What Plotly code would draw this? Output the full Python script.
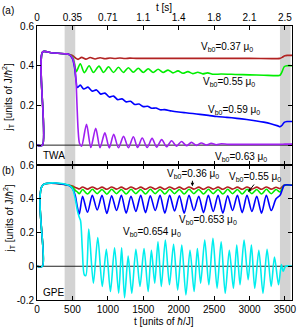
import plotly.graph_objects as go

# ---------------- data ----------------
# Panel (a): TWA
twa_red_t = [0, 78, 80, 200, 400, 450, 500, 540, 580, 630, 690, 750, 820, 890, 960, 1030, 1100, 1170, 1240, 1310, 1400, 2000, 3000, 3430, 3460, 3500, 3530, 3600]
twa_red_y = [0, 0, 0.47, 0.465, 0.46, 0.457, 0.452, 0.44, 0.432, 0.442, 0.433, 0.441, 0.434, 0.440, 0.435, 0.439, 0.436, 0.439, 0.436, 0.438, 0.437, 0.437, 0.437, 0.437, 0.442, 0.45, 0.452, 0.452]

twa_green_t = [0, 78, 80, 200, 400, 450, 500, 530, 555, 611, 667, 736, 796, 875, 940, 1010, 1080, 1150, 1220, 1290, 1360, 1430, 1500, 1570, 1640, 1710, 1780, 1850, 1920, 1990, 2060, 2130, 2200, 2270, 2340, 2410, 2480, 2600, 2800, 3000, 3200, 3400, 3430, 3460, 3490, 3530, 3600]
twa_green_y = [0, 0, 0.47, 0.465, 0.46, 0.457, 0.445, 0.41, 0.37, 0.41, 0.365, 0.40, 0.366, 0.398, 0.366, 0.395, 0.366, 0.392, 0.366, 0.39, 0.367, 0.387, 0.366, 0.385, 0.366, 0.382, 0.366, 0.378, 0.364, 0.374, 0.362, 0.370, 0.360, 0.367, 0.359, 0.364, 0.357, 0.358, 0.356, 0.354, 0.352, 0.350, 0.352, 0.37, 0.395, 0.40, 0.40]

twa_blue_t = [0, 78, 80, 200, 400, 450, 500, 530, 550, 570, 610, 660, 720, 780, 840, 900, 960, 1020, 1080, 1140, 1200, 1260, 1320, 1380, 1440, 1500, 1560, 1620, 1680, 1740, 1800, 1900, 2000, 2100, 2200, 2300, 2420, 2540, 2680, 2820, 2960, 3100, 3200, 3300, 3400, 3430, 3460, 3490, 3530, 3600]
twa_blue_y = [0, 0, 0.47, 0.465, 0.46, 0.457, 0.435, 0.39, 0.33, 0.29, 0.302, 0.283, 0.292, 0.272, 0.278, 0.257, 0.262, 0.242, 0.247, 0.229, 0.233, 0.218, 0.221, 0.205, 0.207, 0.194, 0.196, 0.186, 0.187, 0.178, 0.179, 0.172, 0.167, 0.163, 0.159, 0.155, 0.150, 0.144, 0.140, 0.135, 0.129, 0.122, 0.116, 0.108, 0.097, 0.093, 0.100, 0.115, 0.119, 0.119]

twa_purple_t = [0, 78, 80, 200, 400, 450, 500, 530, 550, 565, 580, 600, 630, 699, 760, 829, 890, 958, 1020, 1083, 1150, 1222, 1290, 1361, 1420, 1486, 1555, 1625, 1690, 1760, 1830, 1900, 1970, 2040, 2110, 2180, 2250, 2320, 2390, 2460, 2530, 2600, 2700, 3000, 3430, 3500, 3600]
twa_purple_y = [0, 0, 0.47, 0.465, 0.46, 0.457, 0.44, 0.40, 0.33, 0.20, 0.08, 0.01, -0.005, 0.105, -0.012, 0.085, -0.013, 0.062, -0.014, 0.054, -0.013, 0.044, -0.013, 0.042, -0.012, 0.036, -0.012, 0.034, -0.01, 0.028, -0.008, 0.022, -0.005, 0.018, -0.003, 0.014, -0.001, 0.011, 0.001, 0.009, 0.002, 0.007, 0.004, 0.004, 0.004, 0.005, 0.005]

# Panel (b): GPE
gpe_t = [0, 78, 80, 450, 500, 540, 570, 597, 643, 713, 781, 850, 918, 986, 1054, 1123, 1191, 1259, 1327, 1396, 1464, 1532, 1600, 1669, 1737, 1805, 1873, 1942, 2010, 2078, 2146, 2215, 2283, 2351, 2419, 2488, 2556, 2624, 2692, 2761, 2829, 2897, 2965, 3034, 3102, 3170, 3238, 3307, 3375, 3430, 3460, 3490, 3600]
gpe_red_y = [0, 0, 0.48, 0.48, 0.475, 0.467, 0.462, 0.458, 0.47, 0.457, 0.47, 0.457, 0.469, 0.456, 0.47, 0.457, 0.469, 0.456, 0.47, 0.457, 0.469, 0.456, 0.47, 0.457, 0.469, 0.456, 0.47, 0.457, 0.469, 0.456, 0.47, 0.457, 0.469, 0.456, 0.47, 0.457, 0.469, 0.456, 0.47, 0.457, 0.469, 0.456, 0.47, 0.457, 0.469, 0.456, 0.47, 0.457, 0.468, 0.46, 0.47, 0.48, 0.48]
gpe_green_y = [0, 0, 0.48, 0.48, 0.47, 0.45, 0.44, 0.43, 0.455, 0.428, 0.456, 0.43, 0.455, 0.427, 0.456, 0.43, 0.455, 0.428, 0.456, 0.43, 0.455, 0.428, 0.456, 0.43, 0.455, 0.428, 0.456, 0.43, 0.455, 0.428, 0.456, 0.43, 0.455, 0.428, 0.456, 0.43, 0.455, 0.428, 0.456, 0.43, 0.455, 0.428, 0.456, 0.43, 0.455, 0.428, 0.456, 0.43, 0.455, 0.44, 0.46, 0.48, 0.48]
gpe_blue_y = [0, 0, 0.48, 0.478, 0.46, 0.42, 0.35, 0.31, 0.415, 0.32, 0.42, 0.333, 0.42, 0.313, 0.418, 0.33, 0.42, 0.315, 0.415, 0.325, 0.42, 0.318, 0.418, 0.33, 0.42, 0.315, 0.42, 0.328, 0.418, 0.315, 0.42, 0.33, 0.415, 0.318, 0.42, 0.325, 0.42, 0.315, 0.418, 0.33, 0.42, 0.318, 0.42, 0.325, 0.415, 0.315, 0.42, 0.33, 0.40, 0.42, 0.45, 0.48, 0.48]

gpe_cyan_t = [0, 78, 80, 450, 500, 540, 570, 597, 615, 640, 667, 690, 731, 796, 858, 921, 979, 1037, 1095, 1153, 1195, 1236, 1287, 1338, 1396, 1454, 1511, 1569, 1615, 1662, 1708, 1755, 1812, 1870, 1928, 1986, 2044, 2102, 2160, 2218, 2264, 2310, 2368, 2426, 2484, 2542, 2600, 2657, 2715, 2773, 2820, 2866, 2923, 2981, 3027, 3074, 3132, 3190, 3248, 3306, 3353, 3410, 3450, 3475, 3510, 3600]
gpe_cyan_y = [0, 0, 0.48, 0.48, 0.46, 0.40, 0.33, 0.29, 0.27, 0.10, -0.05, -0.055, 0.22, -0.10, 0.17, -0.12, 0.10, -0.15, 0.11, -0.16, 0.11, -0.186, 0.06, -0.16, 0.10, -0.12, 0.105, -0.15, 0.095, -0.10, 0.145, -0.12, 0.155, -0.11, 0.13, -0.14, 0.125, -0.17, 0.095, -0.15, 0.105, -0.10, 0.155, -0.11, 0.165, -0.13, 0.145, -0.16, 0.095, -0.13, 0.125, -0.11, 0.155, -0.08, 0.125, -0.13, 0.095, -0.16, 0.10, -0.12, 0.055, -0.11, 0.01, -0.03, 0.0, 0.0]

tick_vals = [0, 500, 1000, 1500, 2000, 2500, 3000, 3500]
top_tick_text = ["0", "0.35", "0.71", "1.1", "1.4", "1.8", "2.1", "2.5"]
ya_ticks = [0, 0.2, 0.4, 0.6]
yb_ticks = [-0.2, 0, 0.2, 0.4, 0.6]
yb_tick_text = ["-0.2", "0", "0.2", "0.4", "0.6"]
bands = [(390, 540), (3430, 3580)]

# ---------------- figure ----------------
FONT = "Liberation Sans, Arial, sans-serif"
RED, GREEN, BLUE, PURPLE, CYAN = "#b22222", "#00ee00", "#0000ff", "#a020f0", "#00eeee"
LW = 1.6

fig = go.Figure()

def add(t, y, color, xa, ya):
    fig.add_trace(go.Scatter(x=t, y=y, mode="lines", xaxis=xa, yaxis=ya,
                             line=dict(color=color, width=LW, shape="spline", smoothing=0.8),
                             showlegend=False, hoverinfo="skip"))

add(twa_red_t, twa_red_y, RED, "x2", "y2")
add(twa_green_t, twa_green_y, GREEN, "x2", "y2")
add(twa_blue_t, twa_blue_y, BLUE, "x2", "y2")
add(twa_purple_t, twa_purple_y, PURPLE, "x2", "y2")

add(gpe_t, gpe_red_y, RED, "x", "y")
add(gpe_t, gpe_green_y, GREEN, "x", "y")
add(gpe_t, gpe_blue_y, BLUE, "x", "y")
add(gpe_cyan_t, gpe_cyan_y, CYAN, "x", "y")

shapes = []
for xr, yr in (("x", "y"), ("x2", "y2")):
    shapes.append(dict(type="line", xref=xr, yref=yr, x0=0, x1=3600, y0=0, y1=0,
                       line=dict(color="#222222", width=1), layer="below"))
    for b0, b1 in bands:
        shapes.append(dict(type="rect", xref=xr, yref=yr + " domain", x0=b0, x1=b1, y0=0, y1=1,
                           fillcolor="#d3d3d3", line=dict(width=0), layer="below"))

axis_common = dict(showline=True, linecolor="black", linewidth=1, mirror="ticks",
                   ticks="inside", ticklen=4, tickcolor="black", showgrid=False,
                   zeroline=False, tickfont=dict(size=10, color="black", family=FONT))

D = 135 / 274
fig.update_layout(
    width=303, height=330,
    margin=dict(l=37, r=7, t=26, b=30),
    paper_bgcolor="white", plot_bgcolor="white",
    font=dict(family=FONT, size=10, color="black"),
    xaxis=dict(domain=[0, 1], anchor="y", range=[0, 3600], tickvals=tick_vals, **axis_common),
    yaxis=dict(domain=[0, D], anchor="x", range=[-0.2, 0.6], tickvals=yb_ticks, ticktext=yb_tick_text, **axis_common),
    xaxis2=dict(domain=[0, 1], anchor="y2", range=[0, 3600], side="top", tickvals=tick_vals,
                ticktext=top_tick_text, **axis_common),
    yaxis2=dict(domain=[D, 1], anchor="x2", range=[-0.1, 0.6], tickvals=ya_ticks, **axis_common),
    shapes=shapes,
)

def ann(text, x, y, xref, yref, **kw):
    d = dict(text=text, x=x, y=y, xref=xref, yref=yref, showarrow=False,
             xanchor="center", yanchor="middle",
             font=dict(size=10, family=FONT, color="black"))
    d.update(kw)
    fig.add_annotation(**d)

V = "V<sub>b0</sub>=%s μ<sub>0</sub>"
ann(V % "0.37", 2683, 0.494, "x2", "y2")
ann(V % "0.55", 2711, 0.318, "x2", "y2")
ann(V % "0.59", 2780, 0.177, "x2", "y2")
ann(V % "0.63", 2877, -0.06, "x2", "y2")
ann("TWA", 56, -0.05, "x2", "y2", xanchor="left")

ann(V % "0.36", 2196, 0.547, "x", "y")
ann(V % "0.55", 3072, 0.529, "x", "y")
ann(V % "0.653", 2419, 0.274, "x", "y")
ann(V % "0.654", 1626, 0.203, "x", "y")
ann("GPE", 56, -0.153, "x", "y", xanchor="left")

# arrows
fig.add_annotation(x=2194, y=0.474, xref="x", yref="y", text="", showarrow=True,
                   ax=0, ay=-7, arrowhead=2, arrowsize=0.7, arrowwidth=1, arrowcolor="black")
fig.add_annotation(x=2982, y=0.44, xref="x", yref="y", text="", showarrow=True,
                   ax=7, ay=-9, arrowhead=2, arrowsize=0.7, arrowwidth=1, arrowcolor="black")

# titles & panel labels
ytitle = "j<sub>T</sub> [units of J/<i>ħ</i><sup>2</sup>]"
ann(ytitle, -0.112, 0.741, "paper", "paper", textangle=-90)
ann(ytitle, -0.112, 0.299, "paper", "paper", textangle=-90)
ann("t [s]", 0.498, 1.069, "paper", "paper")
ann("t [units of <i>ħ</i>/J]", 0.498, -0.080, "paper", "paper")
ann("(a)", -0.112, 1.058, "paper", "paper")
ann("(b)", -0.112, 0.471, "paper", "paper")

fig.write_html("out.html", config={"displayModeBar": False},
               post_script="document.body.style.margin='0';document.body.style.padding='0';"
                           "document.documentElement.style.overflow='hidden';")
